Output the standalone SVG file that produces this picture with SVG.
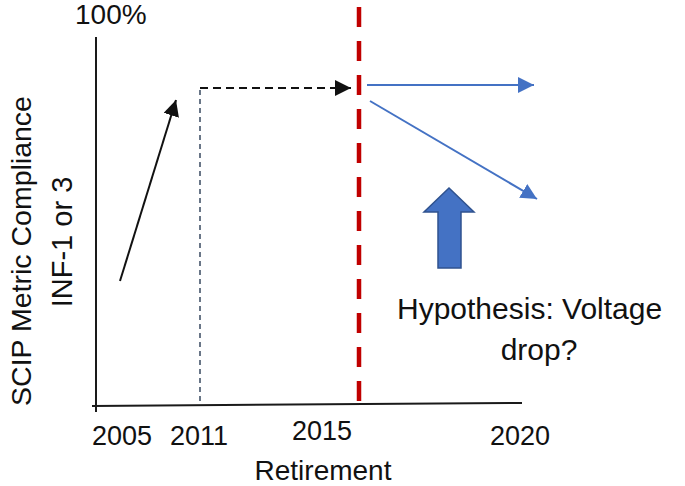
<svg xmlns="http://www.w3.org/2000/svg" width="685" height="486" viewBox="0 0 685 486">
  <style>
    text { font-family: "Liberation Sans", Arial, sans-serif; fill: #111; }
    .axis { stroke: #1a1a1a; stroke-width: 2; fill: none; }
    .blk { stroke: #111; stroke-width: 2; fill: none; }
    .blue { stroke: #4472C4; stroke-width: 2; fill: none; }
  </style>
  <defs>
    <marker id="ahBlack" markerUnits="userSpaceOnUse" markerWidth="18" markerHeight="16" refX="16" refY="8" orient="auto">
      <path d="M0,0 L16,8 L0,16 Z" fill="#111"/>
    </marker>
    <marker id="ahBlue" markerUnits="userSpaceOnUse" markerWidth="18" markerHeight="16" refX="16" refY="8" orient="auto">
      <path d="M0,0 L16,8 L0,16 Z" fill="#4472C4"/>
    </marker>
  </defs>

  <g id="axes">
    <line class="axis" x1="96" y1="37" x2="96" y2="412"/>
    <line class="axis" x1="92" y1="406" x2="522" y2="403"/>
  </g>

  <g id="labels">
    <text x="75" y="24" font-size="28">100%</text>
    <text transform="translate(31,251) rotate(-90)" text-anchor="middle" font-size="28.5">SCIP Metric Compliance</text>
    <text transform="translate(72,242) rotate(-90)" text-anchor="middle" font-size="29">INF-1 or 3</text>
    <text x="92" y="445" font-size="27">2005</text>
    <text x="199" y="445" text-anchor="middle" font-size="27">2011</text>
    <text x="322" y="440" text-anchor="middle" font-size="27">2015</text>
    <text x="520" y="445" text-anchor="middle" font-size="27">2020</text>
    <text x="323" y="480" text-anchor="middle" font-size="28">Retirement</text>
  </g>

  <g id="hypothesis">
    <text x="397" y="319" font-size="30">Hypothesis: Voltage</text>
    <text x="539" y="360" text-anchor="middle" font-size="30">drop?</text>
  </g>

  <g id="block-arrow">
    <path d="M438,268 L461,268 L461,212 L474,212 L449,188 L424,212 L438,212 Z" fill="#4472C4" stroke="#2F528F" stroke-width="1.5"/>
  </g>

  <g id="connectors">
    <line class="blk" x1="120" y1="281" x2="176" y2="100" marker-end="url(#ahBlack)"/>
    <line x1="200" y1="90" x2="200" y2="405" stroke="#44546A" stroke-width="1.6" stroke-dasharray="5 4"/>
    <line class="blk" x1="200" y1="88" x2="351" y2="88" stroke-dasharray="8 5" marker-end="url(#ahBlack)"/>
    <line x1="359" y1="7" x2="359" y2="403" stroke="#C00000" stroke-width="4.5" stroke-dasharray="20 14"/>
    <line class="blue" x1="367" y1="85" x2="534" y2="85" marker-end="url(#ahBlue)"/>
    <line class="blue" x1="370" y1="101" x2="537" y2="199" marker-end="url(#ahBlue)"/>
  </g>
</svg>
